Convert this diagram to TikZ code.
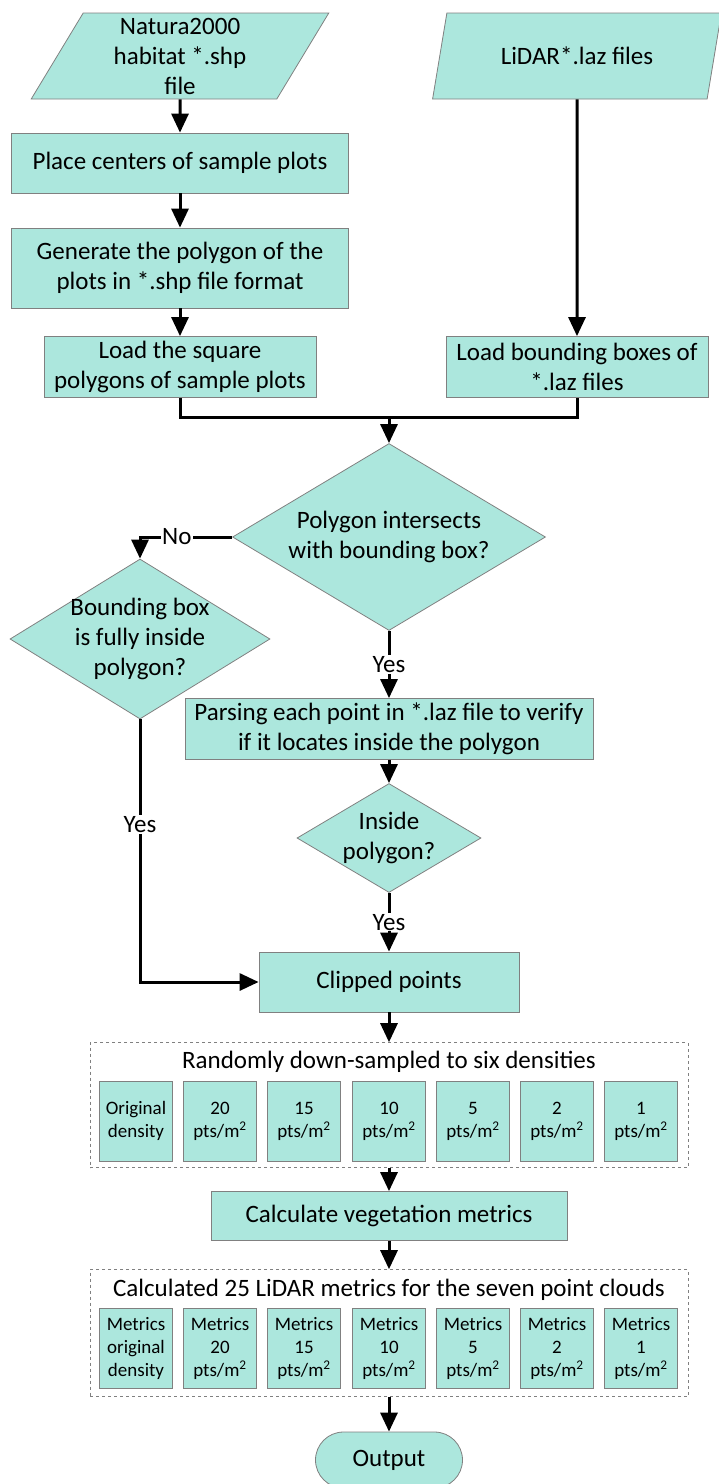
\documentclass[tikz,border=0pt]{standalone}
\usepackage{fontspec}
\setmainfont{Carlito}
\usetikzlibrary{arrows.meta,shapes.geometric,shapes.misc}

\definecolor{boxfill}{RGB}{172,231,221}
\definecolor{boxline}{RGB}{128,128,128}

\tikzset{
    box/.style={draw=boxline, fill=boxfill, line width=0.8pt, align=center, inner sep=2pt},
    io/.style={box, trapezium, trapezium left angle=65, trapezium right angle=115,
        trapezium stretches=true, inner sep=0pt},
    decision/.style={draw=boxline, fill=boxfill, line width=0.8pt, diamond, inner sep=0pt},
    small/.style={box, minimum width=73pt, minimum height=80pt, font=\fontsize{19}{23}\selectfont},
    group/.style={draw=boxline, dashed, line width=0.6pt, inner sep=0pt},
    arrow/.style={-{Triangle[length=19pt,width=17pt]}, line width=3pt},
    line/.style={line width=3pt},
    lab/.style={fill=white, inner sep=1pt},
}

\begin{document}
\begin{tikzpicture}[x=1pt, y=-1pt, font=\fontsize{25}{30}\selectfont]
    \useasboundingbox (0,0) rectangle (719,1484);

    % Inputs
    \node[io, minimum width=298pt, minimum height=86pt] (natura) at (180,56) {Natura2000\\habitat *.shp\\file};
    \node[io, minimum width=289pt, minimum height=86pt] (lidar) at (577,56) {LiDAR*.laz files};

    % Left column (plots)
    \node[box, minimum width=337pt, minimum height=60pt] (place) at (180,163) {Place centers of sample plots};
    \node[box, minimum width=337pt, minimum height=80pt] (gen) at (180,268) {Generate the polygon of the\\plots in *.shp file format};
    \node[box, minimum width=272pt, minimum height=61pt] (loadsq) at (180,367) {Load the square\\polygons of sample plots};

    % Right column (tiles)
    \node[box, minimum width=262pt, minimum height=61pt] (loadbb) at (577,367) {Load bounding boxes of\\*.laz files};

    % Decisions
    \coordinate (join) at (389,417);
    \node[decision, minimum width=313pt, minimum height=187pt,
        label={[align=center]center:Polygon intersects\\with bounding box?}] (isect) at (389,537) {};
    \node[decision, minimum width=260pt, minimum height=160pt,
        label={[align=center]center:Bounding box\\is fully inside\\polygon?}] (bbin) at (140,639) {};
    \node[box, minimum width=408pt, minimum height=61pt] (parse) at (389,729) {Parsing each point in *.laz file to verify\\if it locates inside the polygon};
    \node[decision, minimum width=184pt, minimum height=109pt,
        label={[align=center]center:Inside\\polygon?}] (inside) at (389,838) {};
    \node[box, minimum width=260pt, minimum height=60pt] (clip) at (389,982) {Clipped points};

    % Down-sampling
    \node[group, minimum width=598pt, minimum height=125pt] (samp) at (389,1105) {};
    \node (samptitle) at (389,1062) {Randomly down-sampled to six densities};
    \node[small] (s0) at (136,1121) {Original\\density};
    \node[small] (s20) at (220,1121) {20\\pts/m\textsuperscript{2}};
    \node[small] (s15) at (304,1121) {15\\pts/m\textsuperscript{2}};
    \node[small] (s10) at (389,1121) {10\\pts/m\textsuperscript{2}};
    \node[small] (s5) at (473,1121) {5\\pts/m\textsuperscript{2}};
    \node[small] (s2) at (557,1121) {2\\pts/m\textsuperscript{2}};
    \node[small] (s1) at (641,1121) {1\\pts/m\textsuperscript{2}};

    \node[box, minimum width=356pt, minimum height=49pt] (calc) at (389,1216) {Calculate vegetation metrics};

    % Metrics
    \node[group, minimum width=598pt, minimum height=127pt] (metr) at (389,1333) {};
    \node (metrtitle) at (389,1290) {Calculated 25 LiDAR metrics for the seven point clouds};
    \node[small] (m0) at (136,1348) {Metrics\\original\\density};
    \node[small] (m20) at (220,1348) {Metrics\\20\\pts/m\textsuperscript{2}};
    \node[small] (m15) at (304,1348) {Metrics\\15\\pts/m\textsuperscript{2}};
    \node[small] (m10) at (389,1348) {Metrics\\10\\pts/m\textsuperscript{2}};
    \node[small] (m5) at (473,1348) {Metrics\\5\\pts/m\textsuperscript{2}};
    \node[small] (m2) at (557,1348) {Metrics\\2\\pts/m\textsuperscript{2}};
    \node[small] (m1) at (641,1348) {Metrics\\1\\pts/m\textsuperscript{2}};

    \node[box, rounded rectangle, minimum width=151pt, minimum height=56pt] (out) at (389,1460) {Output};

    % Edges
    \draw[arrow] (natura.south) -- (place.north);
    \draw[arrow] (place.south) -- (gen.north);
    \draw[arrow] (gen.south) -- (loadsq.north);
    \draw[arrow] (lidar.south) -- (loadbb.north);
    \draw[line] (loadsq.south) -- ++(0,20) -| (loadbb.south);
    \draw[arrow] (join) -- (isect.north);

    % No / Yes branches
    \draw[arrow] (isect.west) -| node[lab, pos=0.3] {No} (bbin.north);
    \draw[arrow] (isect.south) -- node[lab] {Yes} (parse.north);
    \draw[arrow] (parse.south) -- (inside.north);
    \draw[arrow] (inside.south) -- node[lab] {Yes} (clip.north);
    \draw[arrow] (bbin.south) |- node[lab, pos=0.2] {Yes} (clip.west);

    % Lower chain
    \draw[arrow] (clip.south) -- (samp.north);
    \draw[arrow] (samp.south) -- (calc.north);
    \draw[arrow] (calc.south) -- (metr.north);
    \draw[arrow] (metr.south) -- (out.north);
\end{tikzpicture}
\end{document}
